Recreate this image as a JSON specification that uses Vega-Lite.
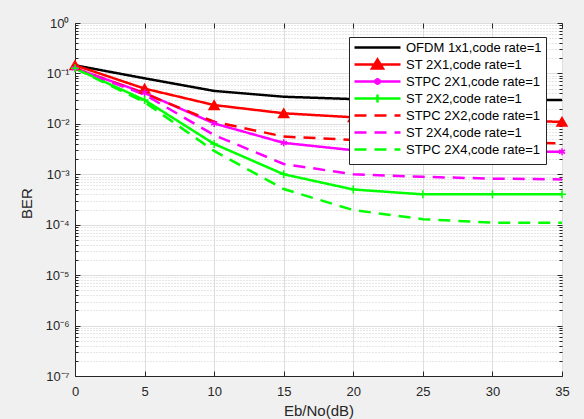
{
  "$schema": "https://vega.github.io/schema/vega-lite/v6.json",
  "width": 487,
  "height": 353,
  "autosize": {"type": "none"},
  "padding": {"left": 75, "top": 23, "right": 22, "bottom": 43},
  "background": "#f0f0f0",
  "config": {
    "view": {"fill": "white", "stroke": "#262626", "strokeWidth": 1},
    "font": "Liberation Sans"
  },
  "resolve": {"axis": {"x": "independent", "y": "independent"}},
  "data": {
    "values": [
      {"s": "OFDM 1x1,code rate=1", "x": 0, "ber": 0.145},
      {"s": "OFDM 1x1,code rate=1", "x": 5, "ber": 0.08},
      {"s": "OFDM 1x1,code rate=1", "x": 10, "ber": 0.045},
      {"s": "OFDM 1x1,code rate=1", "x": 15, "ber": 0.0345},
      {"s": "OFDM 1x1,code rate=1", "x": 20, "ber": 0.031},
      {"s": "OFDM 1x1,code rate=1", "x": 25, "ber": 0.030},
      {"s": "OFDM 1x1,code rate=1", "x": 30, "ber": 0.0298},
      {"s": "OFDM 1x1,code rate=1", "x": 35, "ber": 0.0297},
      {"s": "ST 2X1,code rate=1", "x": 0, "ber": 0.145},
      {"s": "ST 2X1,code rate=1", "x": 5, "ber": 0.05},
      {"s": "ST 2X1,code rate=1", "x": 10, "ber": 0.0236},
      {"s": "ST 2X1,code rate=1", "x": 15, "ber": 0.0162},
      {"s": "ST 2X1,code rate=1", "x": 20, "ber": 0.0135},
      {"s": "ST 2X1,code rate=1", "x": 25, "ber": 0.012},
      {"s": "ST 2X1,code rate=1", "x": 30, "ber": 0.0115},
      {"s": "ST 2X1,code rate=1", "x": 35, "ber": 0.011},
      {"s": "STPC 2X1,code rate=1", "x": 0, "ber": 0.126},
      {"s": "STPC 2X1,code rate=1", "x": 5, "ber": 0.041},
      {"s": "STPC 2X1,code rate=1", "x": 10, "ber": 0.0102},
      {"s": "STPC 2X1,code rate=1", "x": 15, "ber": 0.0042},
      {"s": "STPC 2X1,code rate=1", "x": 20, "ber": 0.003},
      {"s": "STPC 2X1,code rate=1", "x": 25, "ber": 0.0029},
      {"s": "STPC 2X1,code rate=1", "x": 30, "ber": 0.0028},
      {"s": "STPC 2X1,code rate=1", "x": 35, "ber": 0.0028},
      {"s": "ST 2X2,code rate=1", "x": 0, "ber": 0.126},
      {"s": "ST 2X2,code rate=1", "x": 5, "ber": 0.0297},
      {"s": "ST 2X2,code rate=1", "x": 10, "ber": 0.004},
      {"s": "ST 2X2,code rate=1", "x": 15, "ber": 0.001},
      {"s": "ST 2X2,code rate=1", "x": 20, "ber": 0.0005},
      {"s": "ST 2X2,code rate=1", "x": 25, "ber": 0.0004},
      {"s": "ST 2X2,code rate=1", "x": 30, "ber": 0.0004},
      {"s": "ST 2X2,code rate=1", "x": 35, "ber": 0.0004},
      {"s": "STPC 2X2,code rate=1", "x": 0, "ber": 0.126},
      {"s": "STPC 2X2,code rate=1", "x": 5, "ber": 0.04},
      {"s": "STPC 2X2,code rate=1", "x": 10, "ber": 0.011},
      {"s": "STPC 2X2,code rate=1", "x": 15, "ber": 0.0056},
      {"s": "STPC 2X2,code rate=1", "x": 20, "ber": 0.0048},
      {"s": "STPC 2X2,code rate=1", "x": 25, "ber": 0.0045},
      {"s": "STPC 2X2,code rate=1", "x": 30, "ber": 0.0043},
      {"s": "STPC 2X2,code rate=1", "x": 35, "ber": 0.0041},
      {"s": "ST 2X4,code rate=1", "x": 0, "ber": 0.126},
      {"s": "ST 2X4,code rate=1", "x": 5, "ber": 0.038},
      {"s": "ST 2X4,code rate=1", "x": 10, "ber": 0.006},
      {"s": "ST 2X4,code rate=1", "x": 15, "ber": 0.0016},
      {"s": "ST 2X4,code rate=1", "x": 20, "ber": 0.001},
      {"s": "ST 2X4,code rate=1", "x": 25, "ber": 0.00089},
      {"s": "ST 2X4,code rate=1", "x": 30, "ber": 0.00082},
      {"s": "ST 2X4,code rate=1", "x": 35, "ber": 0.00079},
      {"s": "STPC 2X4,code rate=1", "x": 0, "ber": 0.126},
      {"s": "STPC 2X4,code rate=1", "x": 5, "ber": 0.027},
      {"s": "STPC 2X4,code rate=1", "x": 10, "ber": 0.0029},
      {"s": "STPC 2X4,code rate=1", "x": 15, "ber": 0.00051},
      {"s": "STPC 2X4,code rate=1", "x": 20, "ber": 0.000195},
      {"s": "STPC 2X4,code rate=1", "x": 25, "ber": 0.000129},
      {"s": "STPC 2X4,code rate=1", "x": 30, "ber": 0.00011},
      {"s": "STPC 2X4,code rate=1", "x": 35, "ber": 0.00011}
    ]
  },
  "layer": [
    {
      "mark": {"type": "line", "strokeWidth": 2.5, "clip": true},
      "encoding": {
        "x": {
          "field": "x", "type": "quantitative",
          "scale": {"domain": [0, 35], "nice": false, "zero": false},
          "axis": {
            "values": [0, 5, 10, 15, 20, 25, 30, 35],
            "grid": true, "gridColor": "#dedede", "gridWidth": 1,
            "tickSize": -5, "tickColor": "#262626", "domainColor": "#262626",
            "labelFontSize": 13, "labelColor": "#262626", "labelPadding": 14,
            "labelFlush": false, "labelOverlap": false, "labelBound": false,
            "title": "Eb/No(dB)", "titleFontSize": 15, "titleFontWeight": "normal",
            "titleColor": "#262626", "titleY": 34, "titleBaseline": "middle"
          }
        },
        "y": {
          "field": "ber", "type": "quantitative",
          "scale": {"type": "log", "domain": [1e-7, 1], "nice": false},
          "axis": {
            "values": [1e-7, 2e-7, 3e-7, 4e-7, 5e-7, 6e-7, 7e-7, 8e-7, 9e-7,
                       1e-6, 2e-6, 3e-6, 4e-6, 5e-6, 6e-6, 7e-6, 8e-6, 9e-6,
                       1e-5, 2e-5, 3e-5, 4e-5, 5e-5, 6e-5, 7e-5, 8e-5, 9e-5,
                       1e-4, 2e-4, 3e-4, 4e-4, 5e-4, 6e-4, 7e-4, 8e-4, 9e-4,
                       0.001, 0.002, 0.003, 0.004, 0.005, 0.006, 0.007, 0.008, 0.009,
                       0.01, 0.02, 0.03, 0.04, 0.05, 0.06, 0.07, 0.08, 0.09,
                       0.1, 0.2, 0.3, 0.4, 0.5, 0.6, 0.7, 0.8, 0.9, 1],
            "labelExpr": "abs(log(datum.value)/LN10 - round(log(datum.value)/LN10)) < 0.001 ? ['10⁰','10⁻¹','10⁻²','10⁻³','10⁻⁴','10⁻⁵','10⁻⁶','10⁻⁷'][abs(round(log(datum.value)/LN10))] : ''",
            "grid": true,
            "gridColor": {"condition": {"test": "abs(log(datum.value)/LN10 - round(log(datum.value)/LN10)) < 0.001", "value": "#dedede"}, "value": "#cfcfcf"},
            "gridDash": {"condition": {"test": "abs(log(datum.value)/LN10 - round(log(datum.value)/LN10)) < 0.001", "value": []}, "value": [1, 2]},
            "tickSize": {"condition": {"test": "abs(log(datum.value)/LN10 - round(log(datum.value)/LN10)) < 0.001", "value": -5}, "value": -3},
            "tickColor": "#262626", "domainColor": "#262626",
            "labelFontSize": 13, "labelColor": "#262626", "labelPadding": 11,
            "labelFlush": false, "labelOverlap": false, "labelBound": false,
            "title": "BER", "titleFontSize": 15, "titleFontWeight": "normal",
            "titleColor": "#262626", "titleX": -49, "titleY": 180, "titleAngle": 270,
            "titleAlign": "center", "titleBaseline": "middle"
          }
        },
        "color": {
          "field": "s", "type": "nominal",
          "scale": {
            "domain": ["OFDM 1x1,code rate=1", "ST 2X1,code rate=1", "STPC 2X1,code rate=1", "ST 2X2,code rate=1", "STPC 2X2,code rate=1", "ST 2X4,code rate=1", "STPC 2X4,code rate=1"],
            "range": ["#000000", "#ff0000", "#ff00ff", "#00ff00", "#ff0000", "#ff00ff", "#00ff00"]
          },
          "legend": {
            "title": null, "orient": "none", "legendX": 274, "legendY": 14,
            "fillColor": "white", "strokeColor": "#262626", "padding": 4,
            "symbolType": "stroke", "symbolSize": 100, "symbolStrokeWidth": 2.5,
            "labelFont": "Liberation Sans", "labelFontSize": 13, "labelColor": "#000000",
            "labelOffset": 40, "rowPadding": -8, "labelLimit": 300,
            "encode": {
              "symbols": {
                "update": {
                  "shape": {"signal": "'M3.6,-1M3.6,1' + (datum.value == 'ST 2X1,code rate=1' ? 'M-1,0H8.2M3.6,-1L4.7,0.8L2.5,0.8Z' : datum.value == 'STPC 2X1,code rate=1' ? 'M-1,0H8.2M3.6,-0.7V0.7M3,-0.35L4.2,0.35M3,0.35L4.2,-0.35' : datum.value == 'ST 2X2,code rate=1' ? 'M-1,0H8.2M3.6,-0.8V0.8' : 'M-1,0H8.2')"},
                  "fill": {"signal": "datum.value == 'ST 2X1,code rate=1' ? '#ff0000' : 'transparent'"}
                }
              }
            }
          }
        },
        "strokeDash": {
          "field": "s", "type": "nominal",
          "scale": {
            "domain": ["OFDM 1x1,code rate=1", "ST 2X1,code rate=1", "STPC 2X1,code rate=1", "ST 2X2,code rate=1", "STPC 2X2,code rate=1", "ST 2X4,code rate=1", "STPC 2X4,code rate=1"],
            "range": [[1, 0], [1, 0], [1, 0], [1, 0], [12, 8], [12, 8], [12, 8]]
          },
          "legend": {
            "title": null, "orient": "none", "legendX": 274, "legendY": 14,
            "fillColor": "white", "strokeColor": "#262626", "padding": 4,
            "symbolType": "stroke", "symbolSize": 100, "symbolStrokeWidth": 2.5,
            "labelFont": "Liberation Sans", "labelFontSize": 13, "labelColor": "#000000",
            "labelOffset": 40, "rowPadding": -8, "labelLimit": 300
          }
        }
      }
    },
    {
      "transform": [{"filter": "datum.s == 'ST 2X1,code rate=1'"}],
      "mark": {"type": "point", "shape": "triangle-up", "filled": true, "size": 100, "fill": "#ff0000", "stroke": "#ff0000", "strokeWidth": 1.5, "opacity": 1},
      "encoding": {
        "x": {"field": "x", "type": "quantitative",
          "axis": {"orient": "top", "values": [0, 5, 10, 15, 20, 25, 30, 35], "labels": false, "grid": false, "domain": false, "tickSize": -5, "tickColor": "#262626", "title": null}},
        "y": {"field": "ber", "type": "quantitative",
          "axis": {
            "orient": "right", "labels": false, "grid": false, "domain": false, "title": null, "tickColor": "#262626",
            "values": [1e-7, 2e-7, 3e-7, 4e-7, 5e-7, 6e-7, 7e-7, 8e-7, 9e-7,
                       1e-6, 2e-6, 3e-6, 4e-6, 5e-6, 6e-6, 7e-6, 8e-6, 9e-6,
                       1e-5, 2e-5, 3e-5, 4e-5, 5e-5, 6e-5, 7e-5, 8e-5, 9e-5,
                       1e-4, 2e-4, 3e-4, 4e-4, 5e-4, 6e-4, 7e-4, 8e-4, 9e-4,
                       0.001, 0.002, 0.003, 0.004, 0.005, 0.006, 0.007, 0.008, 0.009,
                       0.01, 0.02, 0.03, 0.04, 0.05, 0.06, 0.07, 0.08, 0.09,
                       0.1, 0.2, 0.3, 0.4, 0.5, 0.6, 0.7, 0.8, 0.9, 1],
            "tickSize": {"condition": {"test": "abs(log(datum.value)/LN10 - round(log(datum.value)/LN10)) < 0.001", "value": -5}, "value": -3}
          }}
      }
    },
    {
      "transform": [{"filter": "datum.s == 'STPC 2X1,code rate=1'"}],
      "mark": {"type": "point", "shape": "M0,-1V1M-0.87,-0.5L0.87,0.5M-0.87,0.5L0.87,-0.5", "filled": false, "size": 49, "stroke": "#ff00ff", "strokeWidth": 1.5, "opacity": 1},
      "encoding": {
        "x": {"field": "x", "type": "quantitative", "axis": null},
        "y": {"field": "ber", "type": "quantitative", "axis": null}
      }
    },
    {
      "transform": [{"filter": "datum.s == 'ST 2X2,code rate=1'"}],
      "mark": {"type": "point", "shape": "M0,-1V1M-1,0H1", "filled": false, "size": 64, "stroke": "#00ff00", "strokeWidth": 1.5, "opacity": 1},
      "encoding": {
        "x": {"field": "x", "type": "quantitative", "axis": null},
        "y": {"field": "ber", "type": "quantitative", "axis": null}
      }
    }
  ]
}
